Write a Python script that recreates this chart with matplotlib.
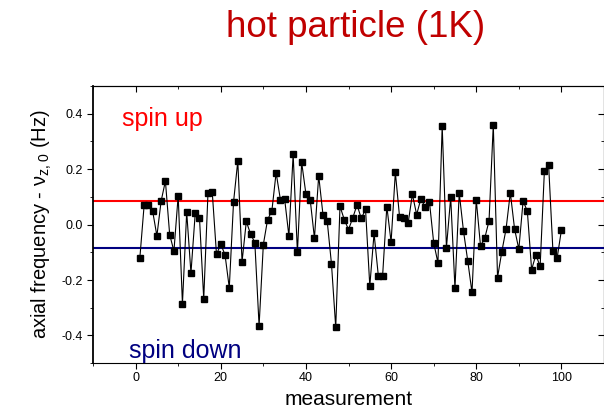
import matplotlib
matplotlib.use("Agg")
import matplotlib.pyplot as plt
from matplotlib.ticker import MultipleLocator, FormatStrFormatter

plt.rcParams['font.family'] = ['Liberation Sans', 'DejaVu Sans']
plt.rcParams['mathtext.fontset'] = 'custom'
plt.rcParams['mathtext.rm'] = 'Liberation Sans'

# measurement number and axial frequency offset (Hz)
measurement = list(range(1, 101))
freq = [-0.120, 0.069, 0.069, 0.049, -0.041, 0.085, 0.157, -0.036, -0.096, 0.104,
        -0.286, 0.045, -0.175, 0.040, 0.025, -0.268, 0.114, 0.117, -0.108, -0.071,
        -0.109, -0.228, 0.081, 0.229, -0.134, 0.011, -0.034, -0.065, -0.365, -0.072,
        0.018, 0.049, 0.187, 0.090, 0.092, -0.041, 0.253, -0.100, 0.224, 0.110,
        0.090, -0.049, 0.176, 0.036, 0.012, -0.142, -0.371, 0.066, 0.018, -0.018,
        0.024, 0.071, 0.022, 0.055, -0.222, -0.032, -0.184, -0.187, 0.065, -0.063,
        0.188, 0.026, 0.025, 0.005, 0.109, 0.036, 0.093, 0.063, 0.083, -0.065,
        -0.138, 0.355, -0.083, 0.098, -0.230, 0.114, -0.023, -0.131, -0.245, 0.089,
        -0.077, -0.049, 0.013, 0.360, -0.191, -0.098, -0.016, 0.115, -0.016, -0.089,
        0.085, 0.048, -0.163, -0.109, -0.151, 0.193, 0.214, -0.094, -0.120, -0.020]

spin_up_level = 0.085
spin_down_level = -0.085

fig = plt.figure(figsize=(6.04, 4.09), dpi=100)
ax = fig.add_axes([0.154, 0.112, 0.846, 0.678])

ax.axhline(spin_up_level, color='#ff0000', lw=1.5, zorder=1)
ax.axhline(spin_down_level, color='#000080', lw=1.5, zorder=1)
ax.plot(measurement, freq, color='black', lw=0.8, marker='s', ms=4.5,
        mfc='black', mec='black', zorder=3)

ax.set_xlim(-10, 110)
ax.set_ylim(-0.5, 0.5)
ax.xaxis.set_major_locator(MultipleLocator(20))
ax.xaxis.set_minor_locator(MultipleLocator(10))
ax.yaxis.set_major_locator(MultipleLocator(0.2))
ax.yaxis.set_minor_locator(MultipleLocator(0.1))
ax.yaxis.set_major_formatter(FormatStrFormatter('%.1f'))
ax.tick_params(which='both', direction='out', labelsize=9, colors='black')
ax.tick_params(which='major', length=4)
ax.tick_params(which='minor', length=2)
ax.tick_params(axis='x', pad=2)
ax.spines['left'].set_linewidth(1.3)

top = ax.secondary_xaxis('top')
top.xaxis.set_major_locator(MultipleLocator(20))
top.xaxis.set_minor_locator(MultipleLocator(10))
top.tick_params(which='both', direction='in', labeltop=False)
top.tick_params(which='major', length=4)
top.tick_params(which='minor', length=2)
right = ax.secondary_yaxis('right')
right.yaxis.set_major_locator(MultipleLocator(0.2))
right.yaxis.set_minor_locator(MultipleLocator(0.1))
right.tick_params(which='both', direction='in', labelright=False)
right.tick_params(which='major', length=4)
right.tick_params(which='minor', length=2)

ax.set_xlabel('measurement', fontsize=15, labelpad=5)
ax.set_ylabel(r'axial frequency - $\mathrm{\nu_{z,0}}$ (Hz)', fontsize=14.5, labelpad=5)

ax.text(-3.2, 0.38, 'spin up', color='#ff0000', fontsize=18, va='center')
ax.text(-1.6, -0.455, 'spin down', color='#000080', fontsize=18, va='center')

fig.text(0.588, 0.933, 'hot particle (1K)', color='#c00000', fontsize=26.5,
         ha='center', va='center')

fig.savefig('out.png', dpi=100)
